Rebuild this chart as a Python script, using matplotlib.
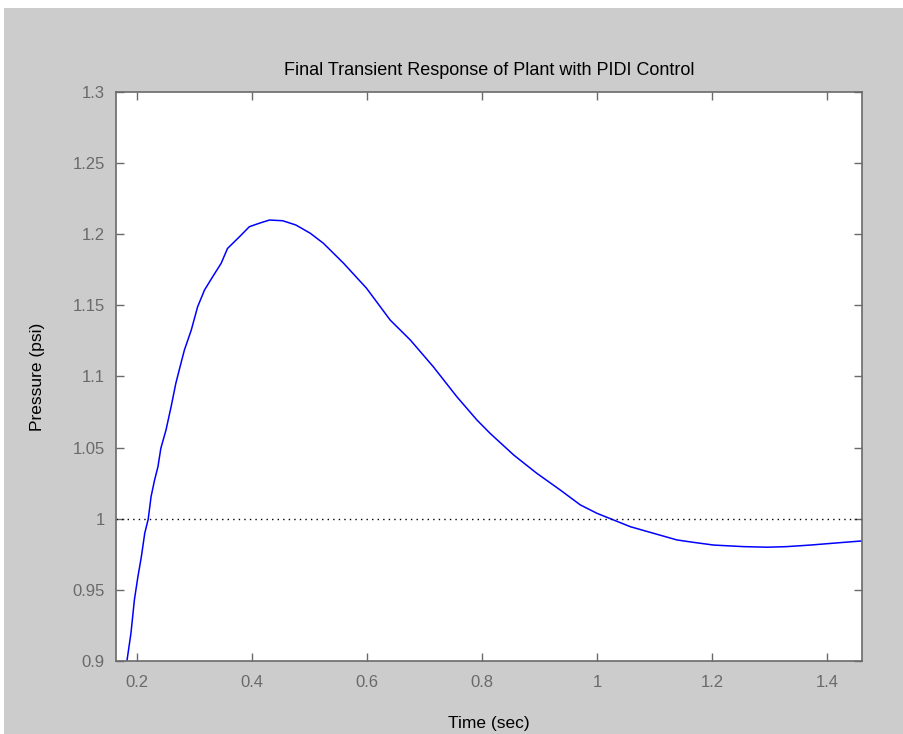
import matplotlib
matplotlib.use("Agg")
import matplotlib.pyplot as plt
from matplotlib.patches import Rectangle

# values
time = [0.182, 0.189, 0.195, 0.201, 0.207, 0.213, 0.219, 0.224, 0.230, 0.236,
        0.241, 0.250, 0.259, 0.267, 0.273, 0.282, 0.294, 0.305, 0.317, 0.331,
        0.346, 0.357, 0.378, 0.395, 0.412, 0.430, 0.453, 0.476, 0.501, 0.524,
        0.559, 0.599, 0.640, 0.675, 0.715, 0.756, 0.791, 0.814, 0.855, 0.895,
        0.936, 0.971, 1.000, 1.029, 1.058, 1.098, 1.139, 1.168, 1.203, 1.255,
        1.296, 1.330, 1.371, 1.423, 1.461]
pressure = [0.900, 0.9195, 0.943, 0.959, 0.973, 0.9898, 0.9996, 1.0155, 1.027, 1.0366,
            1.0495, 1.0624, 1.0790, 1.095, 1.1046, 1.1186, 1.1327, 1.149, 1.1608, 1.170,
            1.1796, 1.190, 1.1983, 1.2053, 1.2077, 1.2100, 1.2095, 1.2065, 1.2007, 1.1936,
            1.1796, 1.162, 1.1397, 1.1257, 1.1069, 1.0858, 1.0694, 1.060, 1.0448, 1.032,
            1.0202, 1.0097, 1.0038, 0.9991, 0.9944, 0.9898, 0.9851, 0.9834, 0.9815, 0.9804,
            0.9800, 0.9804, 0.9815, 0.9832, 0.9844]
setpoint = 1.0
xticks = [0.2, 0.4, 0.6, 0.8, 1.0, 1.2, 1.4]
xticklabels = ["0.2", "0.4", "0.6", "0.8", "1", "1.2", "1.4"]
yticks = [0.9, 0.95, 1.0, 1.05, 1.1, 1.15, 1.2, 1.25, 1.3]
yticklabels = ["0.9", "0.95", "1", "1.05", "1.1", "1.15", "1.2", "1.25", "1.3"]

plt.rcParams['font.family'] = ['Liberation Sans', 'DejaVu Sans']

fig = plt.figure(figsize=(9.04, 7.34), dpi=100, facecolor="#cccccc")
# thin white strips at top and left, like the screenshot
fig.patches.append(Rectangle((0, 0), 4 / 904, 1, transform=fig.transFigure,
                             facecolor="white", edgecolor="none", zorder=-10))
fig.patches.append(Rectangle((0, 1 - 8 / 734), 1, 8 / 734, transform=fig.transFigure,
                             facecolor="white", edgecolor="none", zorder=-10))

ax = fig.add_axes([116 / 904, 73 / 734, 746 / 904, 569 / 734])
ax.set_facecolor("white")

ax.plot(time, pressure, color="#0000ff", lw=1.1)
ax.axhline(setpoint, color="black", ls=(0, (1, 3)), lw=1.0)

ax.set_xlim(0.163, 1.461)
ax.set_ylim(0.9, 1.3)
ax.set_xticks(xticks)
ax.set_xticklabels(xticklabels)
ax.set_yticks(yticks)
ax.set_yticklabels(yticklabels)

ax.tick_params(direction="in", length=6, width=1, colors="#6a6a6a", labelsize=12,
               top=True, right=True)
ax.tick_params(axis="x", pad=10)
ax.tick_params(axis="y", pad=8)
for s in ax.spines.values():
    s.set_color("#6a6a6a")
    s.set_linewidth(1.2)

ax.set_title("Final Transient Response of Plant with PIDI Control", fontsize=13, pad=12)
ax.set_xlabel("Time (sec)", fontsize=12.5, labelpad=19)
ax.set_ylabel("Pressure (psi)", fontsize=12.5, labelpad=20)

fig.savefig("out.png", dpi=100, facecolor=fig.get_facecolor())
